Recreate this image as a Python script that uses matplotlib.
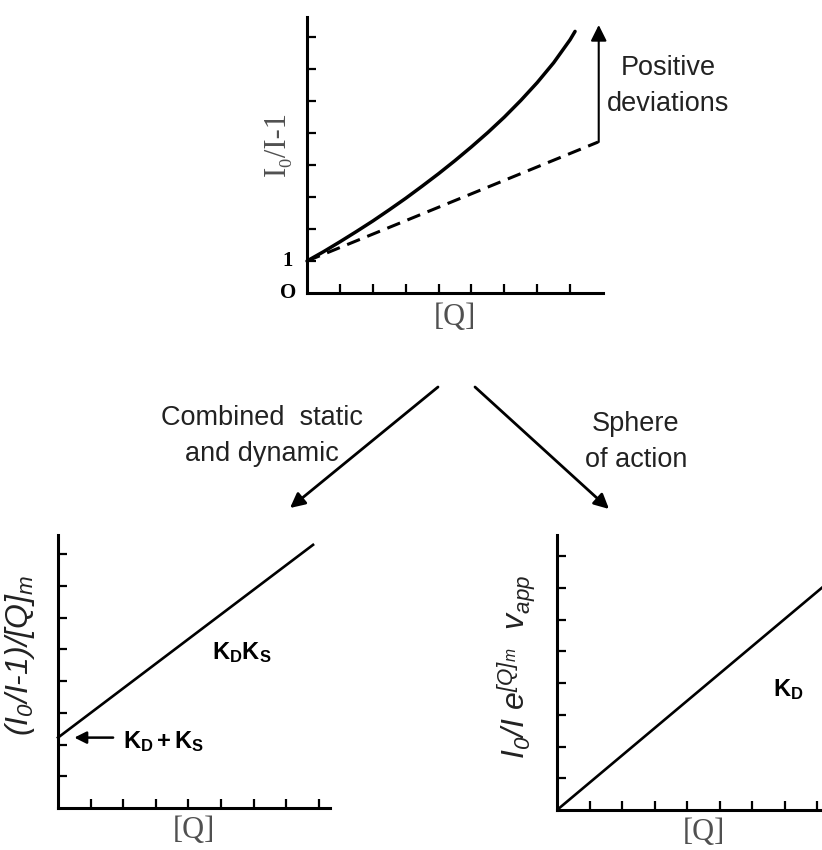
import matplotlib
matplotlib.use("Agg")
import matplotlib.pyplot as plt

plt.rcParams['font.family'] = ['Liberation Sans', 'DejaVu Sans']
plt.rcParams['mathtext.fontset'] = 'custom'
plt.rcParams['mathtext.rm'] = 'Liberation Sans:italic'
plt.rcParams['mathtext.it'] = 'Liberation Sans:italic'
plt.rcParams['mathtext.bf'] = 'Liberation Sans:bold'

# ---------------- data ----------------
tick_vals = [1, 2, 3, 4, 5, 6, 7, 8]

# top panel: Stern-Volmer plot with positive deviation
curve_q = [0, 0.5, 1.0, 1.5, 2.0, 2.5, 3.0, 3.5, 4.0, 4.5, 5.0, 5.5, 6.0,
           6.5, 7.0, 7.5, 8.0, 8.15]
curve_f = [1.00, 1.29, 1.60, 1.92, 2.25, 2.60, 2.96, 3.34, 3.73, 4.14, 4.57,
           5.02, 5.50, 6.02, 6.58, 7.20, 7.92, 8.18]
linear_q = [0, 8.85]
linear_f = [1, 4.72]
deviation_q = 8.87
deviation_from = 4.72
deviation_to = 8.38

# bottom-left: combined static and dynamic
comb_q = [0, 7.82]
comb_f = [2.22, 8.30]

# bottom-right: sphere of action
sph_q = [0, 9.0]
sph_f = [0, 7.75]

W, H = 822, 850
fig = plt.figure(figsize=(W / 100, H / 100), dpi=100)


def px_axes(x0, y_axis, width, height):
    """axes from pixel origin (x0, y_axis) measured from top-left"""
    return fig.add_axes([x0 / W, (H - y_axis) / H, width / W, height / H])


def style(ax):
    for s in ['top', 'right']:
        ax.spines[s].set_visible(False)
    for s in ['left', 'bottom']:
        ax.spines[s].set_linewidth(2.2)
    ax.set_xticks(tick_vals)
    ax.set_yticks(tick_vals)
    ax.set_xticklabels([])
    ax.set_yticklabels([])
    ax.tick_params(direction='in', length=6.5, width=1.6)
    ax.patch.set_alpha(0)


serif = ['Liberation Serif', 'DejaVu Serif']
label_col = '#505050'
text_col = '#222222'

# ---------------- top panel ----------------
ax1 = px_axes(307, 293, 296, 276)
style(ax1)
ax1.set_xlim(0, 9)
ax1.set_ylim(0, 8.63)
ax1.plot(curve_q, curve_f, color='k', lw=2.5, solid_capstyle='round',
         solid_joinstyle='round', clip_on=False)
ax1.plot(linear_q, linear_f, color='k', lw=2.2, dashes=(4.5, 2.6), clip_on=False)
ax1.annotate('', xy=(deviation_q, deviation_to), xytext=(deviation_q, deviation_from),
             arrowprops=dict(arrowstyle='-|>', lw=1.5, color='k', mutation_scale=24,
                             shrinkA=0, shrinkB=0), annotation_clip=False)
ax1.text(-0.58, 1, '1', ha='center', va='center', fontweight='bold',
         family=serif, fontsize=15)
ax1.text(-0.58, 0, 'O', ha='center', va='center', fontweight='bold',
         family=serif, fontsize=15)
ax1.set_xlabel('[Q]', family=serif, fontsize=22, color=label_col, labelpad=4)
ax1.set_ylabel('I\u2080/I-1', family=serif, fontsize=22, color=label_col)
ax1.yaxis.set_label_coords(-0.05, 0.543)

# ---------------- bottom-left panel ----------------
ax2 = px_axes(58, 808, 272, 273)
style(ax2)
ax2.set_xlim(0, 8.34)
ax2.set_ylim(0, 8.61)
ax2.plot(comb_q, comb_f, color='k', lw=1.9, clip_on=False)
ax2.annotate('', xy=(0.5, comb_f[0]), xytext=(1.69, comb_f[0]),
             arrowprops=dict(arrowstyle='-|>', lw=1.8, color='k', mutation_scale=18,
                             shrinkA=0, shrinkB=0))
ax2.text(2.0, 2.08, r'$\mathbf{K_D + K_S}$', ha='left', va='center', fontsize=17)
ax2.text(4.72, 4.89, r'$\mathbf{K_D K_S}$', ha='left', va='center', fontsize=17)
ax2.set_xlabel('[Q]', family=serif, fontsize=22, color=label_col, labelpad=2)
ax2.set_ylabel('(I$_0$/I-1)/[Q]$_m$', style='italic', fontsize=23, color=text_col)
ax2.yaxis.set_label_coords(-0.077, 0.56)

# ---------------- bottom-right panel ----------------
ax3 = px_axes(557, 810, 293, 275)
style(ax3)
ax3.set_xlim(0, 9)
ax3.set_ylim(0, 8.67)
ax3.plot(sph_q, sph_f, color='k', lw=1.9)
ax3.text(6.63, 3.79, r'$\mathbf{K_D}$', ha='left', va='center', fontsize=17)
ax3.set_xlabel('[Q]', family=serif, fontsize=22, color=label_col, labelpad=2)
ax3.set_ylabel('I$_0$/I e$^{[Q]_m}$  v$_{app}$', style='italic', fontsize=23,
               color=text_col)
ax3.yaxis.set_label_coords(-0.065, 0.52)

# ---------------- overlay: scheme arrows and captions ----------------
ov = fig.add_axes([0, 0, 1, 1])
ov.set_xlim(0, W)
ov.set_ylim(H, 0)
ov.axis('off')
ov.patch.set_alpha(0)

arrow_kw = dict(arrowstyle='-|>', lw=2.0, color='k', mutation_scale=22,
                shrinkA=0, shrinkB=0)
ov.annotate('', xy=(290, 508), xytext=(438, 387), arrowprops=arrow_kw)
ov.annotate('', xy=(609, 509), xytext=(475, 387), arrowprops=arrow_kw)

cap_kw = dict(ha='center', va='center', fontsize=19.5, color=text_col, linespacing=1.5)
ov.text(668, 86, 'Positive\ndeviations', **cap_kw)
ov.text(262, 436, 'Combined  static\nand dynamic', **cap_kw)
ov.text(636, 442, 'Sphere\nof action', **cap_kw)

fig.savefig('out.png', dpi=100)
